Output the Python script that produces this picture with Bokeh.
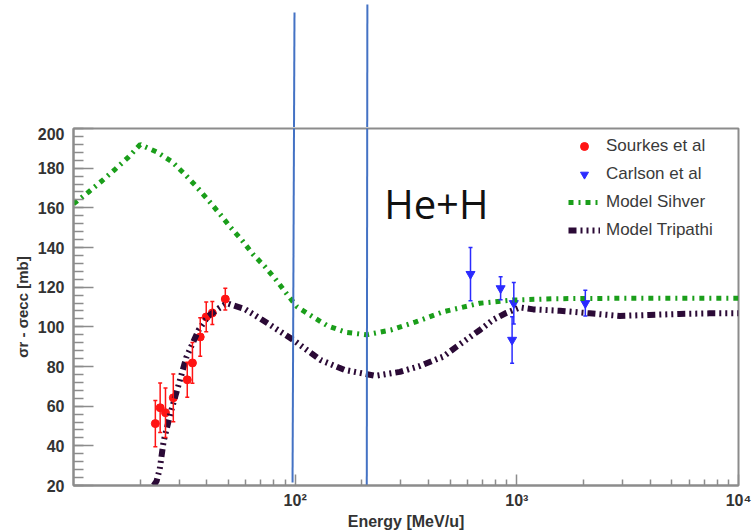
from bokeh.plotting import figure
from bokeh.layouts import column
from bokeh.models import (ColumnDataSource, Whisker, TeeHead, Label, Legend,
                          LegendItem, FixedTicker, SingleIntervalTicker, Range1d)
from bokeh.embed import file_html
from bokeh.resources import INLINE

# ---------------- data ----------------
sourkes_E = [23.4, 24.6, 26.0, 28.2, 32.6, 34.4, 37.3, 39.7, 42.3, 48.4]
sourkes_v = [51.2, 59.2, 56.7, 64.2, 73.3, 81.8, 94.9, 105.0, 107.0, 114.0]
sourkes_err = [11.7, 12.5, 12.5, 12.0, 8.8, 10.3, 9.7, 7.5, 5.8, 5.5]

carlson_E = [618, 845, 969, 952, 2037]
carlson_v = [126.6, 119.4, 111.9, 93.4, 111.9]
carlson_err = [13.4, 5.8, 10.5, 11.7, 6.5]

sihver_E = [10, 11.7, 13.5, 15.5, 17.7, 20.0, 23.8, 27.9, 31.6, 35.8, 40.4, 45.6, 50.9,
            57.5, 64.5, 73.1, 82.1, 91.8, 102, 120, 140, 170, 210, 270, 350, 466, 681,
            960, 1500, 3000, 10000]
sihver_v = [162, 168, 173.8, 179.7, 185.6, 191.9, 188.1, 183.1, 177.2, 170.8, 164.1,
            157.1, 150.4, 143.7, 136.6, 130.3, 123.6, 116.5, 110.1, 105.1, 100.5, 97.2,
            96.0, 98.4, 102.5, 107.6, 111.9, 113.5, 114.2, 114.4, 114.4]

tripathi_E = [23.0, 23.7, 24.5, 25.5, 27.4, 29.8, 32.3, 36.7, 40.3, 45.2, 49.2, 59.6, 70,
              82, 98, 130, 167, 230, 297, 366, 466, 535, 681, 780, 899, 1033, 1186, 1564,
              2134, 2911, 3970, 5420, 7390, 10000]
tripathi_v = [20, 22.2, 28.4, 42.3, 56.5, 70.8, 84.7, 98.4, 105.1, 109.3, 111.9, 108.8,
              104, 99, 93.4, 83.3, 78.3, 75.3, 77.3, 80.3, 85, 90, 98.4, 103.5, 107.1,
              109.8, 108.8, 108.1, 106.8, 105.5, 106, 106.5, 106.8, 106.8]

# hand-drawn vertical marker lines (energy at bottom / top, extent in mb)
marker_E_bottom = [97.3, 210.4]
marker_E_top = [99.3, 211.7]
marker_y_bottom = [21.5, 18.0]
marker_y_top = [258.3, 262.3]

y_ticks_interval = 20
x_ticks = [100, 1000, 10000]
x_tick_labels = ["10²", "10³", "10⁴"]
x_minor = [20, 30, 40, 50, 60, 70, 80, 90, 200, 300, 400, 500, 600, 700, 800, 900,
           2000, 3000, 4000, 5000, 6000, 7000, 8000, 9000]

RED = "#ff1414"
BLUE = "#2b2bff"
GREEN = "#1a9e1a"
PURPLE = "#2b0a36"
LINE_BLUE = "#4472c4"
AXIS_COLOR = "#8c8c8c"
TXT = "#333333"

src_m = ColumnDataSource(dict(x0=marker_E_bottom, y0=marker_y_bottom,
                              x1=marker_E_top, y1=marker_y_top))

# ---------------- main figure ----------------
p = figure(width=752, height=405, x_axis_type="log", x_range=Range1d(10, 10000),
           y_range=Range1d(20, 200), output_backend="svg", toolbar_location=None,
           min_border_left=73, min_border_right=14, min_border_top=1,
           min_border_bottom=46)
p.background_fill_color = "white"
p.border_fill_color = "white"
p.outline_line_color = AXIS_COLOR
p.outline_line_width = 2
p.grid.visible = False

for ax in (p.xaxis[0], p.yaxis[0]):
    ax.axis_line_color = AXIS_COLOR
    ax.axis_line_width = 2
    ax.major_tick_line_color = AXIS_COLOR
    ax.minor_tick_line_color = AXIS_COLOR
    ax.major_tick_line_width = 1.5
    ax.minor_tick_line_width = 1.5
    ax.major_tick_out = 0
    ax.minor_tick_out = 0
    ax.major_label_text_font = "Liberation Sans"
    ax.major_label_text_font_style = "bold"
    ax.major_label_text_font_size = "16px"
    ax.major_label_text_color = TXT
    ax.axis_label_text_font = "Liberation Sans"
    ax.axis_label_text_font_style = "bold"
    ax.axis_label_text_font_size = "15px"
    ax.axis_label_text_color = TXT

p.yaxis.ticker = SingleIntervalTicker(interval=y_ticks_interval, num_minor_ticks=5)
p.yaxis.major_tick_in = 20
p.yaxis.minor_tick_in = 10
p.yaxis.major_label_standoff = 9
p.yaxis.axis_label = "σr - σecc [mb]"
p.yaxis.axis_label_standoff = 4

p.xaxis.ticker = FixedTicker(ticks=x_ticks, minor_ticks=x_minor)
p.xaxis.major_label_overrides = {t: l for t, l in zip(x_ticks, x_tick_labels)}
p.xaxis.major_tick_in = 11
p.xaxis.minor_tick_in = 6
p.xaxis.major_label_standoff = 6
p.xaxis.axis_label = "Energy [MeV/u]"
p.xaxis.axis_label_text_font_size = "16px"
p.xaxis.axis_label_standoff = 1

# data points with error bars
src_s = ColumnDataSource(dict(x=sourkes_E, y=sourkes_v,
                              lo=[v - e for v, e in zip(sourkes_v, sourkes_err)],
                              hi=[v + e for v, e in zip(sourkes_v, sourkes_err)]))
src_c = ColumnDataSource(dict(x=carlson_E, y=carlson_v,
                              lo=[v - e for v, e in zip(carlson_v, carlson_err)],
                              hi=[v + e for v, e in zip(carlson_v, carlson_err)]))
for src, col in ((src_s, RED), (src_c, BLUE)):
    p.add_layout(Whisker(source=src, base="x", lower="lo", upper="hi",
                         dimension="height", line_color=col, line_width=1.5,
                         upper_head=TeeHead(size=4, line_color=col, line_width=1.5),
                         lower_head=TeeHead(size=4, line_color=col, line_width=1.5),
                         level="glyph"))
r_s = p.scatter("x", "y", source=src_s, marker="circle", size=8, color=RED)
r_c = p.scatter("x", "y", source=src_c, marker="inverted_triangle", size=9, color=BLUE)

# model curves
r_sih = p.line(sihver_E, sihver_v, line_color=GREEN, line_width=5,
               line_dash="5 5 2 5", line_cap="butt")
r_tri = p.line(tripathi_E, tripathi_v, line_color=PURPLE, line_width=6,
               line_dash="8 4 2 4 2 4 2 4", line_cap="butt")

# vertical marker lines (lower part, inside the frame)
p.segment("x0", "y0", "x1", "y1", source=src_m, line_color=LINE_BLUE, line_width=2)

p.add_layout(Label(x=252, y=162.0, text="He+H", text_font="Open Sans",
                   text_font_size="40px", text_color="#111111",
                   text_baseline="alphabetic", text_align="left"))

legend = Legend(items=[LegendItem(label="Sourkes et al", renderers=[r_s]),
                       LegendItem(label="Carlson et al", renderers=[r_c]),
                       LegendItem(label="Model Sihver", renderers=[r_sih]),
                       LegendItem(label="Model Tripathi", renderers=[r_tri])],
                location=(495, 245), border_line_color=None,
                background_fill_alpha=0, padding=0, margin=0, spacing=8,
                glyph_width=32, glyph_height=20, label_height=20, label_standoff=6,
                label_text_font="Liberation Sans", label_text_font_size="17px",
                label_text_color="#3a3a3a")
p.add_layout(legend)

# ---------------- strip above the frame (upper part of the marker lines) ----------------
top = figure(width=752, height=127, x_axis_type="log", x_range=p.x_range,
             y_range=Range1d(200 + 1 / 1.989, 200 + 128 / 1.989),
             output_backend="svg", toolbar_location=None,
             x_axis_location=None, y_axis_location=None,
             min_border_left=73, min_border_right=14, min_border_top=0,
             min_border_bottom=0)
top.outline_line_color = None
top.grid.visible = False
top.background_fill_color = "white"
top.border_fill_color = "white"
top.segment("x0", "y0", "x1", "y1", source=src_m, line_color=LINE_BLUE, line_width=2)

layout = column(top, p, spacing=0)
open("out.html", "w").write(file_html(layout, INLINE))
